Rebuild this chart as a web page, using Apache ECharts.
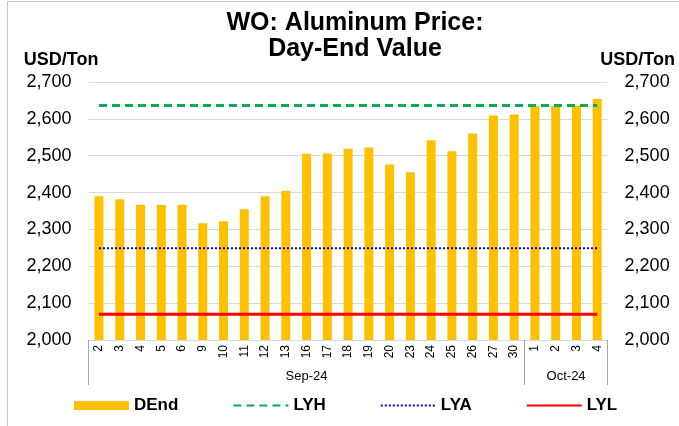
<!DOCTYPE html>
<html>
<head>
<meta charset="utf-8">
<script src="https://cdn.jsdelivr.net/npm/echarts@6/dist/echarts.min.js"></script>
<style>
  html, body { margin: 0; padding: 0; background: #fff; }
  #frame { position: absolute; left: 7px; top: 1px; width: 700px; height: 440px;
           border-left: 1.5px solid #c8c8c8; border-top: 1.5px solid #c8c8c8; }
  #chart { position: absolute; left: 0; top: 0; width: 679px; height: 426px; }
</style>
</head>
<body>
<div id="frame"></div>
<div id="chart"></div>
<script>
// ---- data ----
const days = ['2','3','4','5','6','9','10','11','12','13','16','17','18','19','20','23','24','25','26','27','30','1','2','3','4'];
const months = ['Sep-24', 'Oct-24'];
const monthSpans = [21, 4];
const dEnd = [2390, 2382, 2367, 2366, 2367, 2317, 2322, 2355, 2390, 2405, 2505, 2506, 2519, 2522, 2476, 2455, 2542, 2512, 2560, 2609, 2612, 2634, 2634, 2636, 2654];
const lyh = [2636, 2636, 2636, 2636, 2636, 2636, 2636, 2636, 2636, 2636, 2636, 2636, 2636, 2636, 2636, 2636, 2636, 2636, 2636, 2636, 2636, 2636, 2636, 2636, 2636];
const lya = [2249, 2249, 2249, 2249, 2249, 2249, 2249, 2249, 2249, 2249, 2249, 2249, 2249, 2249, 2249, 2249, 2249, 2249, 2249, 2249, 2249, 2249, 2249, 2249, 2249];
const lyl = [2070, 2070, 2070, 2070, 2070, 2070, 2070, 2070, 2070, 2070, 2070, 2070, 2070, 2070, 2070, 2070, 2070, 2070, 2070, 2070, 2070, 2070, 2070, 2070, 2070];
const yTicks = { min: 2000, max: 2700, interval: 100 };

// month group boundaries / centres (in category units)
const monthStarts = [];
const monthCenters = {};
let acc = 0;
monthSpans.forEach((s, i) => { monthStarts.push(acc); monthCenters[(acc + s / 2).toFixed(1)] = months[i]; acc += s; });

const FONT = '"Liberation Sans", Arial, sans-serif';
const gridRect = { left: 88.6, right: 71.4, top: 82, bottom: 86 };

const chart = echarts.init(document.getElementById('chart'), null, { renderer: 'canvas' });
const fmt = v => v.toLocaleString('en-US');

chart.setOption({
  animation: false,
  textStyle: { fontFamily: FONT },
  title: {
    text: 'WO: Aluminum Price:\nDay-End Value',
    left: 350, top: 5, textAlign: 'center',
    textStyle: { fontFamily: FONT, fontSize: 25, fontWeight: 'bold', color: '#000', lineHeight: 26 }
  },
  legend: {
    left: 69, top: 392,
    itemWidth: 55, itemHeight: 9, itemGap: 54,
    textStyle: { fontFamily: FONT, fontSize: 17, fontWeight: 'bold', color: '#000' },
    data: [
      { name: 'DEnd', icon: 'rect' },
      { name: 'LYH', itemStyle: { opacity: 0 } },
      { name: 'LYA', itemStyle: { opacity: 0 } },
      { name: 'LYL', itemStyle: { opacity: 0 } }
    ]
  },
  grid: [
    Object.assign({}, gridRect),
    Object.assign({}, gridRect)
  ],
  xAxis: [
    {
      type: 'category', gridIndex: 0, data: days, position: 'bottom',
      axisLine: { show: false },
      axisTick: {
        show: true, length: 45, inside: false,
        interval: (idx) => monthStarts.indexOf(idx) >= 0,
        lineStyle: { color: '#a6a6a6', width: 1 }
      },
      axisLabel: { interval: 0, rotate: 90, margin: 5, fontSize: 12, color: '#000', fontFamily: FONT },
      splitLine: { show: false }
    },
    {
      type: 'value', gridIndex: 1, min: 0, max: days.length, interval: 0.5, position: 'bottom',
      axisLine: { show: false }, axisTick: { show: false }, splitLine: { show: false },
      axisLabel: {
        margin: 30, fontSize: 13, color: '#000', fontFamily: FONT,
        formatter: v => monthCenters[v.toFixed(1)] || ''
      }
    }
  ],
  yAxis: [
    {
      type: 'value', gridIndex: 0, position: 'left', min: yTicks.min, max: yTicks.max, interval: yTicks.interval,
      name: 'USD/Ton', nameLocation: 'end', nameGap: 22,
      nameTextStyle: { fontFamily: FONT, fontSize: 18, fontWeight: 'bold', color: '#000', align: 'center', verticalAlign: 'middle', padding: [0, 55, 0, 0] },
      axisLine: { show: false }, axisTick: { show: false },
      axisLabel: { fontSize: 18, color: '#000', margin: 17, formatter: fmt, fontFamily: FONT },
      splitLine: { show: true, lineStyle: { color: '#d9d9d9', width: 1 } }
    },
    {
      type: 'value', gridIndex: 0, position: 'right', min: yTicks.min, max: yTicks.max, interval: yTicks.interval,
      name: 'USD/Ton', nameLocation: 'end', nameGap: 22,
      nameTextStyle: { fontFamily: FONT, fontSize: 18, fontWeight: 'bold', color: '#000', align: 'center', verticalAlign: 'middle', padding: [0, 0, 0, 60] },
      axisLine: { show: false }, axisTick: { show: false },
      axisLabel: { fontSize: 18, color: '#000', margin: 17, formatter: fmt, fontFamily: FONT },
      splitLine: { show: false }
    },
    {
      type: 'value', gridIndex: 1, min: yTicks.min, max: yTicks.max, show: false
    }
  ],
  series: [
    {
      name: 'DEnd', type: 'bar', xAxisIndex: 0, yAxisIndex: 0, data: dEnd,
      barWidth: 9, itemStyle: { color: '#FFC000' }, z: 2
    },
    {
      name: 'LYH', type: 'line', xAxisIndex: 0, yAxisIndex: 0, data: lyh, symbol: 'none', z: 4,
      lineStyle: { color: '#00B050', width: 3, type: [8, 5] }, itemStyle: { color: '#00B050' }
    },
    {
      name: 'LYA', type: 'line', xAxisIndex: 0, yAxisIndex: 0, data: lya, symbol: 'none', z: 4,
      lineStyle: { color: '#0000FF', width: 2, type: [2, 2] }, itemStyle: { color: '#0000FF' }
    },
    {
      name: 'LYL', type: 'line', xAxisIndex: 0, yAxisIndex: 0, data: lyl, symbol: 'none', z: 4,
      lineStyle: { color: '#FF0000', width: 3 }, itemStyle: { color: '#FF0000' }
    }
  ]
});
</script>
</body>
</html>
